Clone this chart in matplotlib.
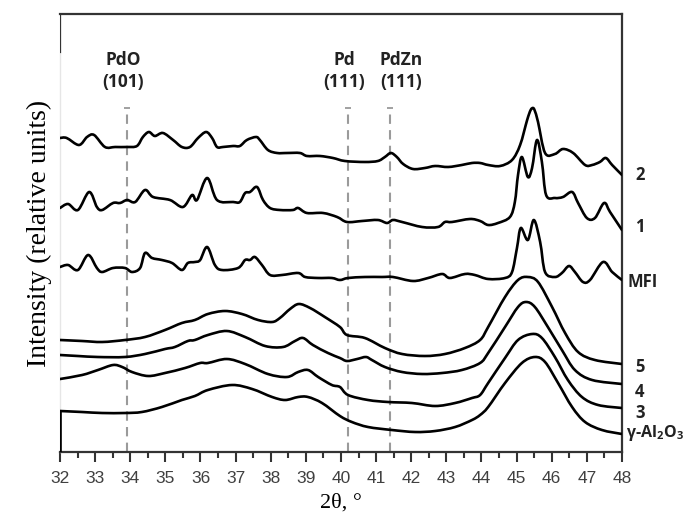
import matplotlib.pyplot as plt
import numpy as np
from matplotlib.path import Path
from matplotlib.patches import PathPatch

plt.rcParams['mathtext.fontset'] = 'custom'
plt.rcParams['mathtext.bf'] = 'Open Sans:bold'
plt.rcParams['mathtext.rm'] = 'Open Sans:bold'

# XRD patterns, 2theta (deg) vs intensity (relative units, stacked with offsets)
tt_2 = [32.00, 32.19, 32.54, 32.77, 32.97, 33.28, 33.57, 33.91, 34.19, 34.36, 34.53, 34.70, 34.93,
        35.22, 35.47, 35.70, 35.93, 36.16, 36.33, 36.47, 36.64, 36.93, 37.12, 37.32, 37.58, 37.69,
        37.92, 38.18, 38.46, 38.83, 39.03, 39.40, 39.77, 40.11, 40.68, 41.05, 41.25, 41.42, 41.59,
        41.77, 42.05, 42.39, 42.68, 43.05, 43.44, 43.73, 43.96, 44.19, 44.53, 44.87, 45.10, 45.30,
        45.40, 45.47, 45.52, 45.61, 45.81, 46.09, 46.32, 46.61, 46.95, 47.15, 47.37, 47.54, 47.72, 48.00]
int_2 = [314, 314, 307, 315, 317, 305, 305, 305, 306, 315, 320, 316, 319,
         312, 305, 305, 314, 320, 314, 305, 305, 306, 306, 312, 315, 312,
         302, 299, 299, 299, 296, 296, 294, 291, 290, 291, 295, 299, 295,
         288, 283, 284, 286, 285, 287, 289, 289, 287, 286, 292, 307, 332,
         342, 344, 341, 330, 299, 298, 303, 299, 287, 287, 290, 294, 287, 277]

tt_1 = [32.00, 32.23, 32.51, 32.83, 33.05, 33.20, 33.51, 33.71, 33.91, 34.14, 34.42, 34.65, 35.13,
        35.50, 35.76, 35.90, 36.19, 36.47, 36.93, 37.12, 37.27, 37.41, 37.61, 37.78, 37.98, 38.26,
        38.63, 38.78, 39.03, 39.49, 39.89, 40.17, 40.60, 41.05, 41.31, 41.48, 41.74, 42.31, 42.76,
        42.96, 43.16, 43.67, 43.96, 44.19, 44.47, 44.81, 44.95, 45.04, 45.15, 45.32, 45.44, 45.58,
        45.72, 45.84, 46.09, 46.32, 46.58, 46.75, 47.00, 47.23, 47.49, 47.66, 48.00]
int_1 = [244, 248, 242, 260, 245, 242, 249, 249, 252, 250, 262, 255, 252,
         245, 257, 252, 274, 252, 250, 250, 259, 260, 265, 252, 244, 242,
         242, 244, 239, 239, 235, 230, 231, 232, 229, 232, 230, 225, 225,
         230, 230, 233, 231, 227, 229, 235, 250, 277, 295, 275, 284, 312,
         290, 257, 254, 255, 260, 249, 234, 234, 249, 240, 222]

tt_mfi = [32.00, 32.23, 32.51, 32.80, 33.05, 33.20, 33.51, 33.85, 34.05, 34.28, 34.42, 34.62, 34.90,
          35.19, 35.47, 35.64, 35.84, 35.99, 36.19, 36.41, 36.61, 37.07, 37.27, 37.41, 37.55, 37.75,
          37.98, 38.32, 38.78, 38.98, 39.35, 39.74, 39.97, 40.20, 40.68, 41.17, 41.48, 42.05, 42.48,
          42.88, 43.10, 43.53, 43.81, 44.19, 44.67, 44.87, 45.01, 45.12, 45.32, 45.49, 45.67, 45.81,
          46.09, 46.29, 46.49, 46.66, 46.89, 47.09, 47.46, 47.72, 48.00]
int_mfi = [185, 187, 182, 197, 184, 180, 184, 184, 180, 184, 199, 194, 192,
           189, 182, 189, 190, 192, 205, 187, 182, 184, 192, 192, 195, 187,
           177, 177, 179, 175, 174, 174, 172, 174, 175, 175, 175, 171, 174,
           178, 174, 178, 177, 173, 174, 180, 204, 224, 212, 232, 210, 180,
           175, 179, 186, 180, 170, 172, 190, 180, 172]

tt_5 = [32.00, 32.63, 33.20, 33.85, 34.42, 34.99, 35.47, 35.84, 36.21, 36.70, 37.18, 37.64, 38.04,
        38.26, 38.55, 38.80, 39.12, 39.54, 39.97, 40.17, 40.68, 41.25, 41.74, 42.39, 42.96, 43.53,
        43.96, 44.19, 44.67, 45.04, 45.32, 45.61, 46.01, 46.38, 46.75, 47.23, 48.00]
int_5 = [112, 111, 110, 112, 115, 122, 129, 132, 138, 141, 138, 132, 130,
         134, 143, 148, 144, 135, 125, 117, 114, 104, 98, 96, 98, 104,
         112, 125, 155, 172, 175, 170, 145, 119, 100, 92, 88]

tt_4 = [32.00, 32.51, 33.08, 33.85, 34.42, 34.99, 35.27, 35.64, 35.84, 36.21, 36.75, 37.27, 37.84,
        38.35, 38.69, 38.92, 39.20, 39.63, 39.97, 40.17, 40.46, 40.71, 40.88, 41.25, 41.74, 42.31,
        42.88, 43.44, 43.96, 44.19, 44.67, 45.04, 45.27, 45.52, 45.89, 46.29, 46.66, 47.15, 48.00]
int_4 = [97, 96, 95, 95, 98, 103, 105, 111, 112, 117, 121, 115, 106,
         105, 111, 114, 107, 99, 94, 91, 93, 95, 92, 85, 80, 78,
         79, 82, 89, 99, 125, 145, 150, 145, 125, 102, 82, 72, 68]

tt_3 = [32.00, 32.63, 33.08, 33.51, 33.77, 34.05, 34.51, 34.99, 35.56, 35.99, 36.21, 36.75, 37.27,
        37.92, 38.46, 38.78, 39.06, 39.35, 39.74, 39.97, 40.20, 40.77, 41.34, 42.02, 42.68, 43.25,
        43.73, 43.96, 44.19, 44.67, 45.04, 45.44, 45.72, 46.09, 46.46, 46.86, 47.32, 48.00]
int_3 = [73, 77, 82, 87, 85, 80, 76, 79, 84, 89, 89, 93, 88,
         78, 75, 80, 82, 75, 67, 65, 57, 52, 50, 49, 46, 49,
         54, 57, 69, 94, 112, 118, 114, 95, 72, 55, 47, 44]

tt_al = [32.00, 32.63, 33.20, 33.85, 34.33, 34.90, 35.47, 35.84, 36.21, 36.90, 37.47, 38.04, 38.41,
         38.78, 39.06, 39.46, 39.97, 40.31, 40.77, 41.45, 42.11, 42.68, 43.25, 43.73, 43.96, 44.19,
         44.67, 45.15, 45.52, 45.81, 46.18, 46.58, 46.95, 47.43, 48.00]
int_al = [41, 40, 39, 39, 40, 45, 52, 56, 62, 67, 63, 55, 52,
          55, 55, 49, 36, 30, 25, 22, 20, 21, 25, 32, 37, 45,
          69, 89, 95, 90, 69, 45, 30, 22, 18]

curves = [(tt_2, int_2), (tt_1, int_1), (tt_mfi, int_mfi), (tt_5, int_5),
          (tt_4, int_4), (tt_3, int_3), (tt_al, int_al)]
names = ['2', '1', 'MFI', '5', '4', '3', r'γ-Al$_{2}$O$_{3}$']
name_x = [48.51, 48.51, 48.17, 48.51, 48.51, 48.51, 48.12]
name_y = [277, 225, 170, 85, 60, 39, 19]

# reference reflections
ref_pos = [33.9, 40.2, 41.4]
ref_labels = ['PdO\n(101)', 'Pd\n(111)', 'PdZn\n(111)']
ref_label_x = [33.8, 40.1, 41.7]

y_top = 438
ref_line_top = 344


def smooth_path(x, y):
    # Catmull-Rom through the points, written as cubic Bezier segments
    p = np.column_stack([x, y]).astype(float)
    ext = np.vstack([p[0], p, p[-1]])
    verts = [p[0]]
    codes = [Path.MOVETO]
    for i in range(len(p) - 1):
        p0, p1, p2, p3 = ext[i], ext[i + 1], ext[i + 2], ext[i + 3]
        verts += [p1 + (p2 - p0) / 6, p2 - (p3 - p1) / 6, p2]
        codes += [Path.CURVE4] * 3
    return Path(verts, codes)


fig = plt.figure(figsize=(6.85, 5.18), dpi=100)
ax = fig.add_axes([0.0876, 0.1274, 0.8204, 0.8456])

for (tt, inten) in curves:
    ax.add_patch(PathPatch(smooth_path(tt, inten), fill=False, edgecolor='black',
                           lw=1.9, joinstyle='round', capstyle='round', zorder=3))

# the lowest pattern is closed down to the baseline on the left
ax.plot([tt_al[0], tt_al[0]], [0, int_al[0]], color='black', lw=1.9, zorder=3)

for pos in ref_pos:
    ax.plot([pos, pos], [0, ref_line_top], color='#9a9a9a', lw=1.5,
            dashes=(4.5, 3.0), zorder=2)
    ax.plot([pos], [ref_line_top], marker='_', ms=5, mew=1.3, color='#9a9a9a', zorder=2)

for lx, lab in zip(ref_label_x, ref_labels):
    ax.text(lx, 381, lab, ha='center', va='center', fontsize=12.5, fontweight='bold',
            family='Open Sans', color='#222222', linespacing=1.25)

for nx, ny, nm in zip(name_x, name_y, names):
    ax.text(nx, ny, nm, ha='center' if len(nm) == 1 else 'left', va='center',
            fontsize=12 if len(nm) < 4 else 11.5, fontweight='bold', family='Open Sans',
            color='#222222', clip_on=False)

ax.set_xlim(32, 48)
ax.set_ylim(0, y_top)
ax.set_xticks(np.arange(32, 49, 1))
ax.set_xticks(np.arange(32.5, 48, 1), minor=True)
ax.set_yticks([])
ax.tick_params(axis='x', which='major', direction='out', length=7, width=1.5,
               color='#333333', labelsize=12.5, labelcolor='#404040', pad=7)
ax.tick_params(axis='x', which='minor', direction='out', length=4, width=1.5, color='#333333')
for lab in ax.get_xticklabels():
    lab.set_family('Liberation Sans')

for side in ['top', 'right', 'bottom']:
    ax.spines[side].set_color('#333333')
    ax.spines[side].set_linewidth(1.6)
ax.spines['left'].set_color('#e6e6e6')
ax.spines['left'].set_linewidth(1.0)
# short dark piece of the left frame at the top
ax.axvline(32, ymin=400 / y_top, ymax=1, color='#333333', lw=1.6, zorder=4)

ax.set_xlabel('2θ, °', family='Liberation Serif', fontsize=16, labelpad=5)
ax.set_ylabel('Intensity (relative units)', family='Liberation Serif', fontsize=20, labelpad=6)

fig.savefig('out.png', dpi=100)
